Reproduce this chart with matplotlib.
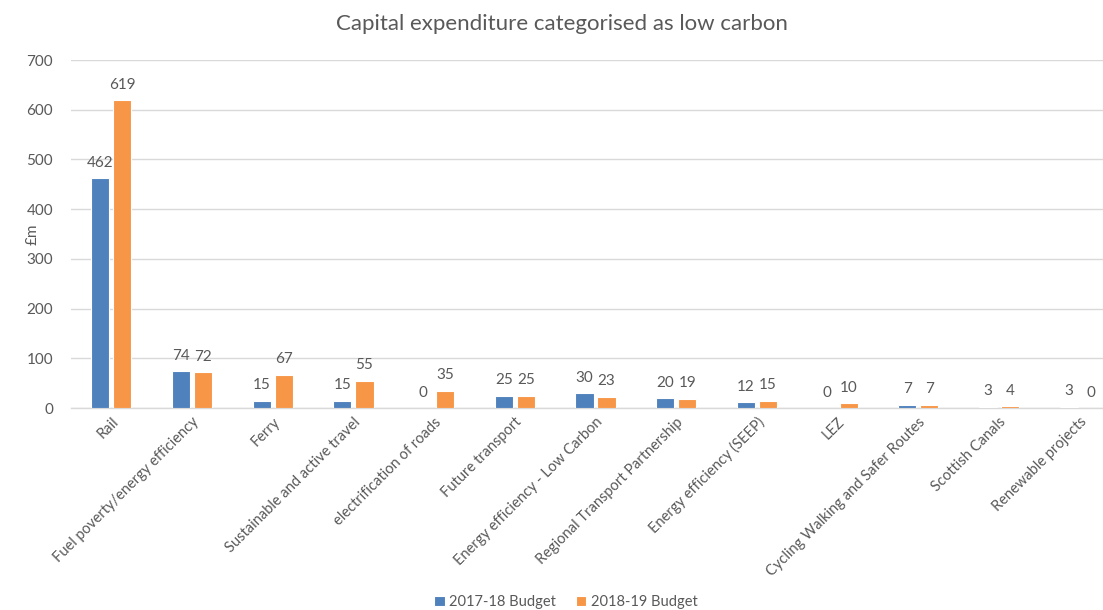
# Low carbon capital expenditure, two budget years side by side

import matplotlib.pyplot as plt
import numpy as np

plt.rcParams['font.family'] = ['Lato', 'DejaVu Sans']

categories = [
    'Rail', 'Fuel poverty/energy efficiency', 'Ferry', 'Sustainable and active travel',
    'electrification of roads', 'Future transport', 'Energy efficiency - Low Carbon',
    'Regional Transport Partnership', 'Energy efficiency (SEEP)', 'LEZ',
    'Cycling Walking and Safer Routes', 'Scottish Canals', 'Renewable projects',
]
budget_2017 = [462, 74, 15, 15, 0, 25, 30, 20, 12, 0, 7, 3, 3]
budget_2018 = [619, 72, 67, 55, 35, 25, 23, 19, 15, 10, 7, 4, 0]
series_names = ['2017-18 Budget', '2018-19 Budget']

blue = '#4F81BD'
orange = '#F79646'
text_grey = '#595959'

fig = plt.figure(figsize=(11.03, 6.10), dpi=100)
# plot area runs a little past the right edge, like the original sheet
ax = fig.add_axes([71 / 1103, 1 - 408 / 610, 1049 / 1103, 348 / 610])

x = np.arange(len(categories))
w = 0.225
off = 0.137
b1 = ax.bar(x - off, budget_2017, w, color=blue, edgecolor='white', linewidth=0.8,
            label=series_names[0], zorder=3)
b2 = ax.bar(x + off, budget_2018, w, color=orange, edgecolor='white', linewidth=0.8,
            label=series_names[1], zorder=3)

for bars in (b1, b2):
    for r in bars:
        ax.annotate(f'{r.get_height():.0f}', (r.get_x() + r.get_width() / 2, r.get_height()),
                    xytext=(0, 6), textcoords='offset points', ha='center', va='bottom',
                    fontsize=11, color=text_grey)

ax.set_xlim(-0.5, len(categories) - 0.5)
ax.set_ylim(0, 700)
ax.set_yticks(range(0, 701, 100))
ax.grid(axis='y', color='#D9D9D9', linewidth=1, zorder=0)
for s in ['top', 'right', 'left']:
    ax.spines[s].set_visible(False)
ax.spines['bottom'].set_color('#D9D9D9')
ax.spines['bottom'].set_linewidth(1)
ax.tick_params(length=0, colors=text_grey, labelsize=10.5)
ax.tick_params(axis='y', pad=13, labelsize=11)
ax.tick_params(axis='x', pad=5)

ax.set_xticks(x)
ax.set_xticklabels(categories, rotation=45, ha='right', rotation_mode='anchor')

ax.set_ylabel('£m', color=text_grey, fontsize=11)
ax.yaxis.set_label_coords(-31 / 1049, 0.5)

fig.text(562 / 1103, 1 - 24 / 610, 'Capital expenditure categorised as low carbon',
         ha='center', va='center', fontsize=16, color=text_grey)

fig.legend(handles=[b1, b2], loc='center', bbox_to_anchor=(566 / 1103, 1 - 602 / 610),
           ncol=2, frameon=False, fontsize=10.5, handlelength=0.7, handleheight=0.7,
           handletextpad=0.3, columnspacing=1.4, labelcolor=text_grey)

fig.savefig('out.png', dpi=100)
